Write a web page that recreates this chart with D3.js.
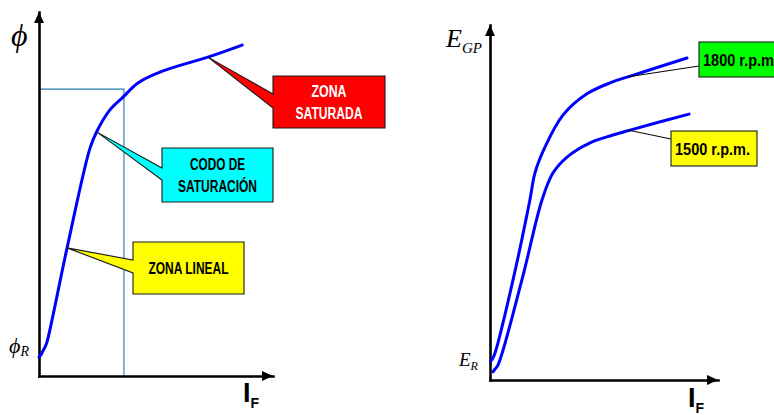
<!DOCTYPE html>
<html>
<head>
<meta charset="utf-8">
<script src="https://cdn.jsdelivr.net/npm/d3@7"></script>
<style>
  html, body { margin: 0; padding: 0; background: #fff; }
  svg { display: block; }
  .box-text { font-family: "Liberation Sans", Arial, sans-serif; font-weight: bold; }
  .math { font-family: "Liberation Serif", "Times New Roman", serif; font-style: italic; }
  .axis-name { font-family: "Liberation Sans", Arial, sans-serif; font-weight: bold; }
</style>
</head>
<body>
<svg id="chart" width="774" height="415"></svg>
<script>
// ---- Magnetization curve: field current I_F vs. flux (percent of axis span) ----
const fluxIF  = [0, 0.85, 1.7, 2.6, 3.4, 12.0, 21.8, 24.8, 30.3, 35.9, 42.3, 53.0, 72.2, 86.8];
const fluxPhi = [5.2, 5.8, 6.9, 8.0, 9.3, 35.2, 62.6, 67.3, 73.1, 76.6, 80.5, 83.8, 87.6, 90.9];

// Operating point projected onto both axes
const kneeIF = 36.3;
const kneePhi = 78.8;

// Regions of the magnetization curve and the curve point each one points at
const zoneNames   = [["ZONA", "SATURADA"], ["CODO DE", "SATURACIÓN"], ["ZONA LINEAL"]];
const zoneAnchorIF  = [72.2, 24.8, 12.0];
const zoneAnchorPhi = [87.6, 67.0, 35.2];

// ---- Open-circuit characteristic E_GP vs. I_F at two speeds ----
const speedLabels = ["1800 r.p.m.", "1500 r.p.m."];
const egp1800IF = [0.4, 1.3, 2.2, 10.1, 17.5, 19.7, 24.1, 32.0, 42.5, 53.5, 60.5, 86.4];
const egp1800E  = [5.4, 6.2, 7.6, 28.2, 50.7, 58.3, 65.6, 74.6, 80.6, 83.9, 85.4, 90.7];
const egp1500IF = [1.3, 2.2, 3.5, 14.0, 22.8, 27.6, 33.8, 43.9, 53.9, 61.4, 87.3];
const egp1500E  = [2.3, 3.1, 4.2, 28.2, 50.7, 58.3, 62.8, 66.8, 69.0, 70.4, 74.9];
const speedAnchorIF = [60.5, 60.5];
const speedAnchorE  = [85.4, 70.4];

// ---- Layout ----
const svg = d3.select("#chart");
const AXIS_W = 2.6;
const CURVE_W = 3;
const CURVE_COLOR = "#0000ff";

const xL = d3.scaleLinear().domain([0, 100]).range([39, 273]);
const yL = d3.scaleLinear().domain([0, 100]).range([376, 12]);
const xR = d3.scaleLinear().domain([0, 100]).range([490, 718]);
const yR = d3.scaleLinear().domain([0, 100]).range([380, 25]);

// Axes drawn with d3.axis (no ticks), finished with arrowheads
function drawAxes(xs, ys) {
  const x0 = xs.range()[0], y0 = ys.range()[0];
  const gx = svg.append("g").attr("transform", `translate(0,${y0})`)
    .call(d3.axisBottom(xs).tickValues([]).tickSizeOuter(0));
  const gy = svg.append("g").attr("transform", `translate(${x0},0)`)
    .call(d3.axisLeft(ys).tickValues([]).tickSizeOuter(0));
  [gx, gy].forEach(g => g.select(".domain")
    .attr("stroke", "#000").attr("stroke-width", AXIS_W).attr("stroke-linecap", "square"));
  const xt = xs.range()[1], yt = ys.range()[1];
  svg.append("path").attr("fill", "#000")
    .attr("d", `M${xt},${y0} L${xt - 11},${y0 - 5} L${xt - 11},${y0 + 5} Z`);
  svg.append("path").attr("fill", "#000")
    .attr("d", `M${x0},${yt} L${x0 - 5},${yt + 11} L${x0 + 5},${yt + 11} Z`);
}

function curve(xs, ys, xv, yv) {
  const line = d3.line().x(d => xs(d[0])).y(d => ys(d[1])).curve(d3.curveCatmullRom.alpha(0.5));
  svg.append("path")
    .attr("d", line(d3.zip(xv, yv)))
    .attr("fill", "none")
    .attr("stroke", CURVE_COLOR)
    .attr("stroke-width", CURVE_W)
    .attr("stroke-linejoin", "round")
    .attr("stroke-linecap", "round");
}

// Bold, slightly condensed label text fitted to a given width
function boxText(x, y, str, size, width, color, anchor) {
  return svg.append("text").attr("class", "box-text")
    .attr("x", x).attr("y", y)
    .attr("text-anchor", anchor)
    .attr("font-size", size)
    .attr("fill", color)
    .attr("textLength", width)
    .attr("lengthAdjust", "spacingAndGlyphs")
    .text(str);
}

// ---------------- Left panel ----------------
// Projection of the operating point
svg.append("path")
  .attr("d", `M${xL(0) + 1},${yL(kneePhi)} H${xL(kneeIF)} V${yL(0)}`)
  .attr("fill", "none")
  .attr("stroke", "#2a78ad")
  .attr("stroke-width", 1.1);

drawAxes(xL, yL);
curve(xL, yL, fluxIF, fluxPhi);

// Callout boxes with wedge-shaped pointers
const zoneStyle = [
  { fill: "#ff0000", color: "#ffffff", box: [273, 76, 112, 52], base: [94, 108], widths: [35, 67] },
  { fill: "#00ffff", color: "#000000", box: [162, 148, 111, 54], base: [168, 180], widths: [55, 79] },
  { fill: "#ffff00", color: "#000000", box: [133, 242, 111, 52], base: [260, 273], widths: [80] }
];
zoneNames.forEach((lines, i) => {
  const s = zoneStyle[i];
  const [bx, by, bw, bh] = s.box;
  const tx = xL(zoneAnchorIF[i]), ty = yL(zoneAnchorPhi[i]);
  const d = `M${bx},${by} H${bx + bw} V${by + bh} H${bx} V${s.base[1]} L${tx},${ty} L${bx},${s.base[0]} Z`;
  svg.append("path").attr("d", d)
    .attr("fill", s.fill).attr("stroke", "#1a1a1a").attr("stroke-width", 1.1)
    .attr("stroke-linejoin", "miter");
  const lh = 21.5;
  const cy = by + bh / 2 - (lines.length - 1) * lh / 2;
  lines.forEach((t, j) => {
    boxText(bx + bw / 2, cy + j * lh + 5.8, t, 16, s.widths[j], s.color, "middle");
  });
});

// Axis names
svg.append("text").attr("class", "math").attr("x", 11).attr("y", 46).attr("font-size", 32).text("ϕ");
const phiR = svg.append("text").attr("class", "math").attr("x", 9).attr("y", 353).attr("font-size", 22);
phiR.append("tspan").text("ϕ");
phiR.append("tspan").attr("font-size", 14).attr("dy", 3).text("R");
const ifL = svg.append("text").attr("class", "axis-name").attr("x", 243).attr("y", 402).attr("font-size", 27);
ifL.append("tspan").text("I");
ifL.append("tspan").attr("font-size", 14).attr("dy", 6).text("F");

// ---------------- Right panel ----------------
drawAxes(xR, yR);
curve(xR, yR, egp1800IF, egp1800E);
curve(xR, yR, egp1500IF, egp1500E);

const speedStyle = [
  { fill: "#00ff00", box: [699, 42, 90, 35], join: 66 },
  { fill: "#ffff00", box: [671, 131, 86, 35], join: 139 }
];
speedLabels.forEach((t, i) => {
  const s = speedStyle[i];
  const [bx, by, bw, bh] = s.box;
  svg.append("line")
    .attr("x1", xR(speedAnchorIF[i])).attr("y1", yR(speedAnchorE[i]))
    .attr("x2", bx).attr("y2", s.join)
    .attr("stroke", "#000").attr("stroke-width", 1);
  svg.append("rect").attr("x", bx).attr("y", by).attr("width", bw).attr("height", bh)
    .attr("fill", s.fill).attr("stroke", "#1a1a1a").attr("stroke-width", 1.1);
  boxText(bx + 4, by + bh / 2 + 6, t, 17, 75, "#000", "start");
});

const egp = svg.append("text").attr("class", "math").attr("x", 446).attr("y", 47).attr("font-size", 26);
egp.append("tspan").text("E");
egp.append("tspan").attr("font-size", 15).attr("dy", 6).text("GP");
const er = svg.append("text").attr("class", "math").attr("x", 459).attr("y", 366).attr("font-size", 19);
er.append("tspan").text("E");
er.append("tspan").attr("font-size", 12).attr("dy", 4).text("R");
const ifR = svg.append("text").attr("class", "axis-name").attr("x", 688).attr("y", 407).attr("font-size", 27);
ifR.append("tspan").text("I");
ifR.append("tspan").attr("font-size", 14).attr("dy", 6).text("F");
</script>
</body>
</html>
